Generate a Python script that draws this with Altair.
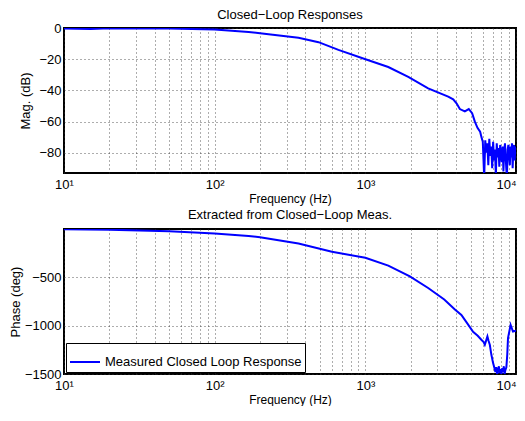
import altair as alt
import pandas as pd

FONT = "Liberation Sans"
BLUE = "#0000ff"

series_name = "Measured Closed Loop Response"

# Magnitude (dB) vs frequency (Hz)
mag_freq = [10, 15, 20, 50, 100, 168, 200, 360, 489, 663, 980, 1420, 1927, 2612, 3548,
            3830, 4030, 4240, 4575, 4860, 5115, 5325, 5550, 5780, 5900, 6020,
            6150, 6250, 6350, 6450, 6550, 6650, 6750, 6850, 6950, 7050, 7150, 7250,
            7350, 7450, 7550, 7650, 7750, 7850, 7950, 8050, 8150, 8250, 8350, 8450,
            8550, 8700, 8800, 8900, 9000, 9100, 9200, 9300, 9400, 9500, 9600, 9700,
            9800, 9900, 10000]
mag_db = [-0.4, -0.6, -0.2, -0.4, -1.0, -2.6, -3.3, -6.3, -9.1, -14.0, -19.7, -25.0, -31.3,
          -38.7, -44.0,
          -45.7, -48.3, -52.0, -53.5, -52.0, -54.6, -59.9, -64.0, -66.5, -70.0, -73.0,
          -96.0, -72.0, -80.0, -74.0, -88.0, -71.0, -82.0, -76.0, -90.0, -73.0, -85.0, -78.0,
          -95.0, -74.0, -83.0, -77.0, -89.0, -75.0, -81.0, -86.0, -76.0, -92.0, -79.0, -74.0,
          -84.0, -97.0, -78.0, -75.0, -82.0, -88.0, -76.0, -83.0, -74.0, -90.0, -78.0, -75.0,
          -85.0, -76.0, -80.0]

# Phase (deg) vs frequency (Hz)
phase_freq = [10, 20, 50, 100, 168, 200, 360, 600, 1000, 1420, 1975, 2612, 3340, 3930,
              4340, 4800, 5190, 5570, 5890, 6100, 6210, 6350, 6460, 6580,
              6700, 6860, 7040, 7220, 7300, 7400, 7500, 7600, 7700, 7800, 7900, 8000,
              8100, 8200, 8300, 8400, 8500, 8630, 8750, 8850, 9210, 9550, 10000]
phase_deg = [-5, -10, -25, -50, -75, -88, -153, -238, -300, -381, -493, -612, -731, -834,
             -891, -987, -1065, -1105, -1146, -1170, -1197, -1150, -1112, -1160,
             -1197, -1299, -1385, -1449, -1480, -1430, -1505, -1460, -1420, -1490, -1450, -1510,
             -1440, -1480, -1420, -1500, -1460, -1430, -1300, -1129, -993, -1061, -1054]

x_grid = [10, 20, 30, 40, 50, 60, 70, 80, 90,
          100, 200, 300, 400, 500, 600, 700, 800, 900,
          1000, 2000, 3000, 4000, 5000, 6000, 7000, 8000, 9000, 10000]
mag_ticks = [-80, -60, -40, -20, 0]
phase_ticks = [-1500, -1000, -500]

label_expr = ("datum.value == 10 ? '10\u00b9' : datum.value == 100 ? '10\u00b2' : "
              "datum.value == 1000 ? '10\u00b3' : datum.value == 10000 ? '10\u2074' : ''")

mag_df = pd.DataFrame({"f": mag_freq, "v": mag_db, "s": series_name})
phase_df = pd.DataFrame({"f": phase_freq, "v": phase_deg, "s": series_name})

GRID = dict(grid=True, gridDash=[1, 3], gridColor="#333", gridOpacity=0.8,
            ticks=False, domain=False)


def x_enc():
    return alt.X(
        "f:Q",
        scale=alt.Scale(type="log", domain=[10, 10000], nice=False),
        axis=alt.Axis(values=x_grid, labelExpr=label_expr, title="Frequency (Hz)",
                      titleFontSize=12, labelFlush=False, labelPadding=5,
                      titlePadding=2,
                      labelAlign={"condition": {"test": "datum.value == 10000",
                                                "value": "right"},
                                  "value": "center"},
                      **GRID),
    )


top = alt.Chart(mag_df).mark_line(clip=True, strokeWidth=2, color=BLUE).encode(
    x=x_enc(),
    y=alt.Y("v:Q", scale=alt.Scale(domain=[-93, 0], nice=False, zero=False),
            axis=alt.Axis(values=mag_ticks, title="Mag. (dB)", format="d",
                          titleFontSize=13, labelPadding=3, titlePadding=6, **GRID)),
).properties(
    width=452, height=145,
    title=alt.TitleParams("Closed\u2212Loop Responses", fontSize=13, fontWeight="normal",
                          font=FONT, offset=0, color="black"),
)

bottom = alt.Chart(phase_df).mark_line(clip=True, strokeWidth=2).encode(
    x=x_enc(),
    y=alt.Y("v:Q", scale=alt.Scale(domain=[-1500, -3], nice=False, zero=False),
            axis=alt.Axis(values=phase_ticks, title="Phase (deg)", format="d",
                          titleFontSize=13, labelPadding=3, titlePadding=2, **GRID)),
    color=alt.Color("s:N", scale=alt.Scale(domain=[series_name], range=[BLUE]),
                    legend=alt.Legend(title=None, orient="bottom-left", offset=2,
                                      symbolType="stroke", symbolSize=900,
                                      symbolStrokeWidth=2, labelFontSize=13,
                                      labelFont=FONT, strokeColor="black",
                                      fillColor="white", padding=3, labelOffset=4,
                                      labelLimit=400)),
).properties(
    width=452, height=145,
    title=alt.TitleParams("Extracted from Closed\u2212Loop Meas.", fontSize=13,
                          fontWeight="normal", font=FONT, offset=7, color="black"),
)

chart = alt.vconcat(top, bottom, spacing=3).resolve_legend(
    color="independent"
).resolve_scale(
    color="independent"
).properties(
    padding={"left": 0, "top": 0, "right": 0, "bottom": 0}
).configure_view(
    stroke="black", strokeWidth=2
).configure_axis(
    labelFont=FONT, titleFont=FONT, labelFontSize=13,
    titleFontWeight="normal", labelColor="black", titleColor="black"
)

chart.save("out.html", embed_options={"renderer": "svg", "actions": False})
